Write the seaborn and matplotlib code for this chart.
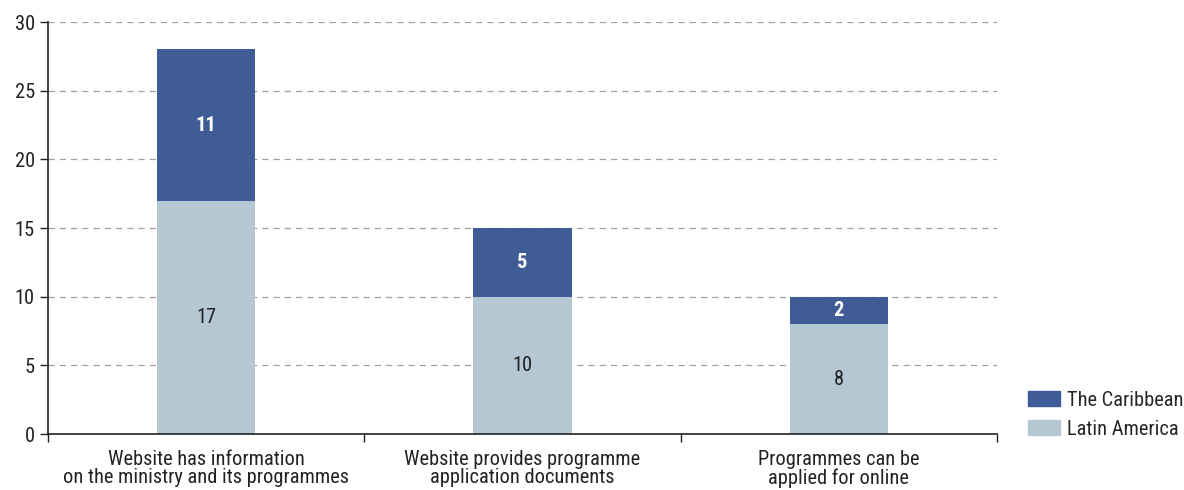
import matplotlib
matplotlib.use("Agg")
import matplotlib.pyplot as plt
import matplotlib.patches as mpatches
import seaborn as sns
import pandas as pd

categories = ["Website has information\non the ministry and its programmes",
              "Website provides programme\napplication documents",
              "Programmes can be\napplied for online"]
latin_america = [17, 10, 8]
caribbean = [11, 5, 2]

col_carib = "#3f5c96"
col_latam = "#b4c7d3"

sns.set_style("white")
plt.rcParams['font.family'] = ['Roboto Condensed', 'Liberation Sans Narrow',
                               'Barlow Semi Condensed', 'DejaVu Sans']
fs = 14.7

df = pd.DataFrame({"cat": categories, "latam": latin_america, "carib": caribbean})
df["total"] = df["latam"] + df["carib"]

fig = plt.figure(figsize=(11.84, 4.9), dpi=100)
ax = fig.add_axes([48/1184, 56/490, (997-48)/1184, (434-22)/490])

sns.barplot(data=df, x="cat", y="total", color=col_carib, width=0.31, saturation=1,
            linewidth=0, ax=ax)
sns.barplot(data=df, x="cat", y="latam", color=col_latam, width=0.31, saturation=1,
            linewidth=0, ax=ax)

# value labels
for i, (la, ca) in enumerate(zip(latin_america, caribbean)):
    ax.text(i, la / 2, str(la), ha="center", va="center", fontsize=fs, color="#222222")
    ax.text(i, la + ca / 2, str(ca), ha="center", va="center", fontsize=fs,
            color="white", fontweight="bold")

ax.set_ylim(0, 30)
ax.set_xlim(-0.5, 2.5)
ax.set_yticks(range(0, 31, 5))
ax.yaxis.grid(True, linestyle=(0, (5, 4)), color="#a0a0a0", linewidth=0.9)
ax.set_axisbelow(True)
ax.set_xlabel("")
ax.set_ylabel("")

for s in ["top", "right"]:
    ax.spines[s].set_visible(False)
for s in ["left", "bottom"]:
    ax.spines[s].set_color("#222222")
    ax.spines[s].set_linewidth(1.2)

ax.tick_params(axis="y", left=True, length=6, width=1, labelsize=fs, colors="#222222")
ax.tick_params(axis="x", bottom=False, labelsize=fs, pad=8, colors="#222222")
ax.set_xticks([-0.5, 0.5, 1.5, 2.5], minor=True)
ax.tick_params(axis="x", which="minor", bottom=True, length=6, width=1, color="#222222")
for lbl in ax.get_xticklabels():
    lbl.set_linespacing(0.95)

handles = [mpatches.Patch(color=col_carib, label="The Caribbean"),
           mpatches.Patch(color=col_latam, label="Latin America")]
fig.legend(handles=handles, loc="lower left", bbox_to_anchor=(1028/1184, 51/490),
           frameon=False, fontsize=fs, handlelength=1.55, handleheight=0.75,
           handletextpad=0.38, labelspacing=0.5, borderpad=0, borderaxespad=0)

fig.savefig("out.png", dpi=100)
